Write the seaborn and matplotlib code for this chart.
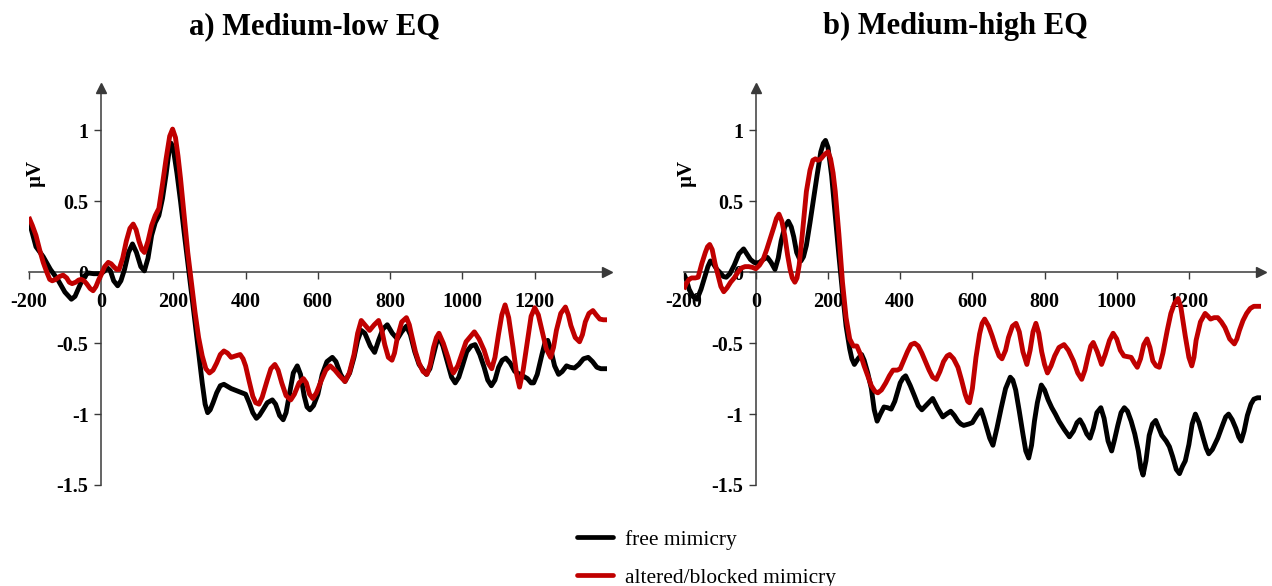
import numpy as np
import pandas as pd
import matplotlib
matplotlib.use("Agg")
import matplotlib.pyplot as plt
from matplotlib.lines import Line2D
import seaborn as sns

# ---- data: (time in ms, amplitude in microvolts) ----
# a) medium-low EQ, free mimicry
low_free = [(-200, 0.37), (-180, 0.18), (-160, 0.11), (-140, 0.02), (-120, -0.05), (-100, -0.14),
            (-82, -0.19), (-72, -0.17), (-60, -0.10), (-48, -0.03), (-35, -0.005), (-20, -0.01),
            (0, -0.01), (10, 0.01), (18, 0.03), (26, 0.01), (35, -0.06), (46, -0.095), (55, -0.06),
            (65, 0.02), (76, 0.14), (87, 0.20), (98, 0.14), (110, 0.04), (120, 0.01), (130, 0.10),
            (140, 0.26), (150, 0.35), (160, 0.40), (170, 0.52), (180, 0.69), (188, 0.85), (194, 0.91),
            (200, 0.87), (210, 0.70), (220, 0.50), (230, 0.28), (240, 0.07), (260, -0.35),
            (280, -0.78), (288, -0.93), (295, -0.99), (302, -0.97), (310, -0.92), (320, -0.85),
            (330, -0.80), (340, -0.79), (360, -0.82), (380, -0.84), (400, -0.86), (410, -0.92),
            (420, -0.99), (430, -1.03), (438, -1.01), (448, -0.97), (460, -0.92), (474, -0.90),
            (483, -0.93), (494, -1.01), (504, -1.04), (512, -0.99), (522, -0.85), (532, -0.71),
            (543, -0.66), (552, -0.72), (562, -0.87), (570, -0.95), (578, -0.97), (588, -0.94),
            (600, -0.86), (612, -0.72), (625, -0.63), (640, -0.60), (650, -0.63), (663, -0.72),
            (675, -0.77), (688, -0.71), (700, -0.60), (710, -0.48), (720, -0.41), (730, -0.43),
            (745, -0.52), (757, -0.565), (768, -0.48), (780, -0.40), (792, -0.37), (806, -0.43),
            (820, -0.47), (832, -0.42), (845, -0.38), (856, -0.44), (868, -0.56), (880, -0.65),
            (900, -0.72), (910, -0.68), (920, -0.58), (928, -0.50), (936, -0.46), (946, -0.52),
            (960, -0.65), (970, -0.74), (980, -0.78), (990, -0.74), (1000, -0.66), (1012, -0.56),
            (1024, -0.52), (1035, -0.51), (1048, -0.58), (1060, -0.67), (1070, -0.76), (1080, -0.80),
            (1090, -0.76), (1100, -0.67), (1110, -0.62), (1120, -0.605), (1132, -0.64),
            (1145, -0.70), (1160, -0.72), (1180, -0.75), (1190, -0.78), (1197, -0.78), (1207, -0.72),
            (1220, -0.58), (1228, -0.50), (1236, -0.48), (1245, -0.55), (1255, -0.66), (1266, -0.72),
            (1276, -0.70), (1288, -0.66), (1298, -0.67), (1310, -0.675), (1322, -0.65),
            (1335, -0.61), (1348, -0.60), (1360, -0.63), (1372, -0.67), (1383, -0.68), (1400, -0.68)]

# a) medium-low EQ, altered/blocked mimicry
low_alt = [(-200, 0.39), (-190, 0.33), (-180, 0.26), (-170, 0.16), (-160, 0.07), (-150, 0.0),
           (-142, -0.05), (-135, -0.06), (-125, -0.05), (-115, -0.03), (-105, -0.02), (-95, -0.04),
           (-88, -0.07), (-80, -0.08), (-70, -0.07), (-62, -0.055), (-55, -0.05), (-47, -0.06),
           (-40, -0.08), (-30, -0.115), (-22, -0.13), (-14, -0.10), (-6, -0.05), (0, -0.02),
           (10, 0.04), (20, 0.07), (28, 0.06), (35, 0.04), (43, 0.02), (50, 0.02), (60, 0.10),
           (70, 0.22), (80, 0.31), (89, 0.34), (97, 0.30), (105, 0.22), (113, 0.16), (120, 0.14),
           (130, 0.22), (140, 0.33), (150, 0.40), (160, 0.45), (170, 0.62), (180, 0.80), (190, 0.96),
           (198, 1.01), (206, 0.95), (213, 0.82), (220, 0.66), (230, 0.40), (240, 0.14),
           (260, -0.28), (270, -0.46), (280, -0.59), (290, -0.68), (300, -0.71), (310, -0.69),
           (320, -0.64), (330, -0.58), (340, -0.555), (350, -0.57), (360, -0.60), (372, -0.59),
           (385, -0.58), (393, -0.61), (400, -0.66), (410, -0.77), (420, -0.875), (428, -0.92),
           (437, -0.93), (446, -0.88), (460, -0.76), (470, -0.68), (481, -0.65), (490, -0.69),
           (500, -0.78), (512, -0.87), (525, -0.90), (535, -0.86), (548, -0.78), (560, -0.75),
           (568, -0.78), (577, -0.86), (586, -0.89), (596, -0.85), (610, -0.76), (622, -0.69),
           (634, -0.66), (647, -0.69), (660, -0.73), (675, -0.77), (687, -0.71), (700, -0.58),
           (710, -0.43), (720, -0.34), (730, -0.37), (743, -0.41), (756, -0.37), (768, -0.34),
           (777, -0.41), (785, -0.51), (795, -0.60), (805, -0.62), (812, -0.57), (820, -0.46),
           (832, -0.35), (845, -0.32), (853, -0.37), (860, -0.45), (870, -0.56), (880, -0.64),
           (891, -0.70), (902, -0.72), (911, -0.65), (920, -0.53), (928, -0.46), (935, -0.43),
           (947, -0.50), (960, -0.60), (968, -0.67), (975, -0.71), (987, -0.66), (1000, -0.565),
           (1010, -0.49), (1020, -0.46), (1033, -0.42), (1046, -0.47), (1060, -0.55), (1071, -0.64),
           (1081, -0.68), (1090, -0.60), (1100, -0.435), (1109, -0.30), (1118, -0.23),
           (1128, -0.32), (1140, -0.53), (1150, -0.72), (1158, -0.81), (1168, -0.69), (1180, -0.48),
           (1190, -0.31), (1200, -0.25), (1210, -0.30), (1220, -0.41), (1232, -0.54), (1244, -0.60),
           (1252, -0.53), (1260, -0.41), (1272, -0.29), (1285, -0.245), (1293, -0.30),
           (1300, -0.375), (1312, -0.46), (1324, -0.49), (1332, -0.44), (1340, -0.35),
           (1350, -0.29), (1361, -0.27), (1370, -0.30), (1380, -0.33), (1390, -0.335), (1400, -0.335)]

# b) medium-high EQ, free mimicry
high_free = [(-200, -0.01), (-193, -0.05), (-185, -0.12), (-175, -0.17), (-163, -0.19), (-152, -0.12),
             (-140, -0.02), (-133, 0.04), (-126, 0.08), (-118, 0.06), (-108, 0.02), (-100, 0.0),
             (-90, -0.03), (-82, -0.035), (-72, -0.01), (-60, 0.05), (-47, 0.13), (-34, 0.165),
             (-25, 0.13), (-15, 0.09), (-5, 0.07), (0, 0.065), (10, 0.07), (20, 0.09), (32, 0.105),
             (42, 0.07), (53, 0.02), (62, 0.10), (70, 0.22), (80, 0.32), (90, 0.36), (98, 0.32),
             (105, 0.25), (113, 0.14), (120, 0.10), (125, 0.08), (132, 0.11), (140, 0.19), (150, 0.35),
             (160, 0.52), (170, 0.69), (180, 0.85), (187, 0.91), (193, 0.93), (200, 0.88), (210, 0.68),
             (220, 0.40), (230, 0.12), (240, -0.14), (250, -0.38), (260, -0.54), (266, -0.61),
             (273, -0.65), (283, -0.61), (293, -0.58), (300, -0.62), (310, -0.71), (320, -0.82),
             (328, -0.97), (336, -1.05), (345, -1.00), (355, -0.95), (365, -0.955), (375, -0.965),
             (385, -0.91), (400, -0.78), (408, -0.745), (415, -0.73), (428, -0.80), (440, -0.875),
             (450, -0.94), (460, -0.97), (475, -0.93), (490, -0.89), (504, -0.96), (518, -1.02),
             (528, -1.00), (540, -0.98), (550, -1.01), (560, -1.05), (568, -1.07), (576, -1.08),
             (590, -1.07), (600, -1.06), (612, -1.01), (624, -0.97), (632, -1.03), (640, -1.10),
             (648, -1.17), (657, -1.22), (668, -1.10), (680, -0.955), (692, -0.82), (705, -0.74),
             (712, -0.76), (720, -0.83), (730, -0.98), (740, -1.14), (748, -1.26), (756, -1.31),
             (764, -1.22), (772, -1.05), (780, -0.92), (791, -0.795), (800, -0.83), (810, -0.90),
             (820, -0.955), (830, -1.00), (840, -1.05), (855, -1.11), (869, -1.16), (880, -1.12),
             (890, -1.06), (898, -1.04), (907, -1.08), (917, -1.14), (926, -1.17), (935, -1.10),
             (945, -0.99), (956, -0.955), (965, -1.03), (976, -1.19), (986, -1.26), (994, -1.18),
             (1003, -1.08), (1012, -0.99), (1021, -0.955), (1030, -0.98), (1040, -1.05),
             (1050, -1.14), (1060, -1.26), (1067, -1.38), (1073, -1.43), (1081, -1.33),
             (1090, -1.15), (1099, -1.07), (1108, -1.045), (1117, -1.10), (1125, -1.15),
             (1137, -1.19), (1146, -1.23), (1155, -1.30), (1165, -1.39), (1174, -1.42),
             (1182, -1.37), (1190, -1.33), (1200, -1.215), (1209, -1.07), (1218, -1.00),
             (1228, -1.06), (1240, -1.17), (1248, -1.24), (1255, -1.28), (1265, -1.25),
             (1280, -1.17), (1293, -1.08), (1302, -1.02), (1310, -1.00), (1320, -1.04),
             (1330, -1.10), (1338, -1.16), (1345, -1.19), (1353, -1.12), (1362, -1.01),
             (1372, -0.93), (1380, -0.895), (1390, -0.885), (1400, -0.885)]

# b) medium-high EQ, altered/blocked mimicry
high_alt = [(-200, -0.12), (-193, -0.08), (-185, -0.05), (-178, -0.04), (-168, -0.04), (-160, -0.035),
            (-150, 0.06), (-140, 0.14), (-134, 0.18), (-128, 0.196), (-121, 0.16), (-113, 0.06),
            (-105, -0.02), (-97, -0.10), (-89, -0.137), (-80, -0.11), (-70, -0.07), (-60, -0.04),
            (-50, 0.0), (-40, 0.03), (-30, 0.04), (-20, 0.04), (-10, 0.035), (0, 0.025), (10, 0.05),
            (20, 0.09), (30, 0.16), (40, 0.24), (50, 0.32), (57, 0.38), (64, 0.41), (72, 0.36),
            (80, 0.26), (88, 0.12), (95, 0.02), (101, -0.04), (108, -0.07), (114, -0.04), (120, 0.05),
            (128, 0.25), (140, 0.57), (150, 0.72), (158, 0.79), (165, 0.80), (172, 0.79), (180, 0.80),
            (190, 0.83), (200, 0.85), (207, 0.80), (214, 0.70), (220, 0.57), (230, 0.27),
            (240, -0.07), (250, -0.32), (260, -0.47), (270, -0.52), (280, -0.52), (290, -0.58),
            (300, -0.66), (310, -0.73), (320, -0.80), (330, -0.84), (338, -0.85), (348, -0.83),
            (360, -0.78), (370, -0.73), (380, -0.69), (392, -0.69), (400, -0.68), (410, -0.62),
            (420, -0.56), (430, -0.51), (440, -0.50), (450, -0.52), (460, -0.57), (470, -0.63),
            (480, -0.69), (490, -0.74), (500, -0.755), (510, -0.70), (520, -0.63), (530, -0.59),
            (537, -0.58), (548, -0.61), (560, -0.67), (570, -0.76), (580, -0.86), (587, -0.91),
            (592, -0.92), (600, -0.82), (610, -0.60), (620, -0.435), (627, -0.36), (634, -0.33),
            (645, -0.38), (655, -0.45), (665, -0.53), (674, -0.59), (682, -0.61), (692, -0.55),
            (700, -0.46), (711, -0.38), (721, -0.36), (730, -0.42), (740, -0.56), (751, -0.65),
            (760, -0.55), (768, -0.42), (776, -0.36), (784, -0.43), (792, -0.56), (800, -0.65),
            (808, -0.71), (818, -0.66), (828, -0.59), (840, -0.53), (854, -0.51), (866, -0.55),
            (880, -0.625), (892, -0.71), (903, -0.755), (912, -0.69), (920, -0.60), (928, -0.52),
            (935, -0.495), (946, -0.56), (958, -0.65), (968, -0.58), (980, -0.48), (990, -0.43),
            (1000, -0.47), (1010, -0.55), (1020, -0.59), (1030, -0.595), (1040, -0.60),
            (1049, -0.64), (1057, -0.67), (1066, -0.61), (1075, -0.51), (1084, -0.47),
            (1092, -0.53), (1100, -0.625), (1109, -0.66), (1118, -0.67), (1128, -0.57),
            (1140, -0.41), (1150, -0.29), (1160, -0.22), (1170, -0.185), (1178, -0.25),
            (1190, -0.45), (1200, -0.60), (1208, -0.66), (1214, -0.60), (1220, -0.48),
            (1232, -0.35), (1245, -0.29), (1253, -0.31), (1260, -0.33), (1270, -0.32),
            (1280, -0.32), (1290, -0.35), (1300, -0.39), (1313, -0.47), (1326, -0.505),
            (1333, -0.47), (1340, -0.41), (1350, -0.34), (1360, -0.29), (1370, -0.255),
            (1380, -0.24), (1400, -0.24)]

x_ticks = [-200, 0, 200, 400, 600, 800, 1000, 1200]
y_ticks = [-1.5, -1, -0.5, 0, 0.5, 1]
y_tick_labels = ["-1.5", "-1", "-0.5", "0", "0.5", "1"]
titles = ["a) Medium-low EQ", "b) Medium-high EQ"]
labels = ["free mimicry", "altered/blocked mimicry"]
colors = ["#000000", "#C00000"]

sns.set_style("ticks")
plt.rcParams["font.family"] = ["Liberation Serif", "DejaVu Serif"]
plt.rcParams["text.color"] = "black"
plt.rcParams["xtick.labelcolor"] = "black"
plt.rcParams["ytick.labelcolor"] = "black"

fig = plt.figure(figsize=(12.72, 5.86), dpi=100)
ax1 = fig.add_axes([0.0226, 0.1724, 0.4546, 0.6775])
ax2 = fig.add_axes([0.5375, 0.1724, 0.4539, 0.6775])

panels = [(ax1, [low_free, low_alt]), (ax2, [high_free, high_alt])]

axis_col = "#3a3a3a"
for i, (ax, series) in enumerate(panels):
    for pts, col in zip(series, colors):
        df = pd.DataFrame(pts, columns=["time", "uv"])
        sns.lineplot(data=df, x="time", y="uv", color=col, linewidth=3.5,
                     estimator=None, sort=True, ax=ax, solid_joinstyle="round",
                     solid_capstyle="butt", zorder=3)
    ax.set_xlim(-200, 1400)
    ax.set_ylim(-1.5, 1.3)
    for s in ["top", "right"]:
        ax.spines[s].set_visible(False)
    for s in ["left", "bottom"]:
        ax.spines[s].set_position(("data", 0))
        ax.spines[s].set_color(axis_col)
        ax.spines[s].set_linewidth(1.1)
        ax.spines[s].set_zorder(0)
    ax.set_xticks(x_ticks)
    ax.set_xticklabels([str(x) for x in x_ticks])
    ax.set_yticks(y_ticks)
    ax.set_yticklabels(y_tick_labels)
    ax.tick_params(axis="both", direction="out", length=5, width=1.0, color=axis_col,
                   labelsize=14.5)
    ax.tick_params(axis="x", pad=9)
    ax.tick_params(axis="y", pad=4)
    for lbl in ax.get_xticklabels() + ax.get_yticklabels():
        lbl.set_fontweight("bold")
    ax.set_xlabel("")
    ax.set_ylabel("")
    # arrow heads on the axes
    ax.plot(1, 0, marker=">", color=axis_col, markersize=7, transform=ax.get_yaxis_transform(),
            clip_on=False)
    ax.plot(0, 1, marker="^", color=axis_col, markersize=7, transform=ax.get_xaxis_transform(),
            clip_on=False)
    ax.text(0.011 if i == 0 else 0.005, 0.785, "µV", transform=ax.transAxes, rotation=90,
            fontsize=15, fontweight="bold", ha="center", va="center")

fig.text(0.247, 0.955, titles[0], fontsize=22, fontweight="bold", ha="center", va="center")
fig.text(0.751, 0.955, titles[1], fontsize=22, fontweight="bold", ha="center", va="center")

handles = [Line2D([0], [0], color=c, linewidth=3.4) for c in colors]
fig.legend(handles, labels, loc="upper left", bbox_to_anchor=(0.4536, 0.096), frameon=False,
           fontsize=15.4, handlelength=1.68, handletextpad=0.55, labelspacing=0.84,
           borderpad=0, borderaxespad=0)

fig.savefig("out.png", dpi=100)
